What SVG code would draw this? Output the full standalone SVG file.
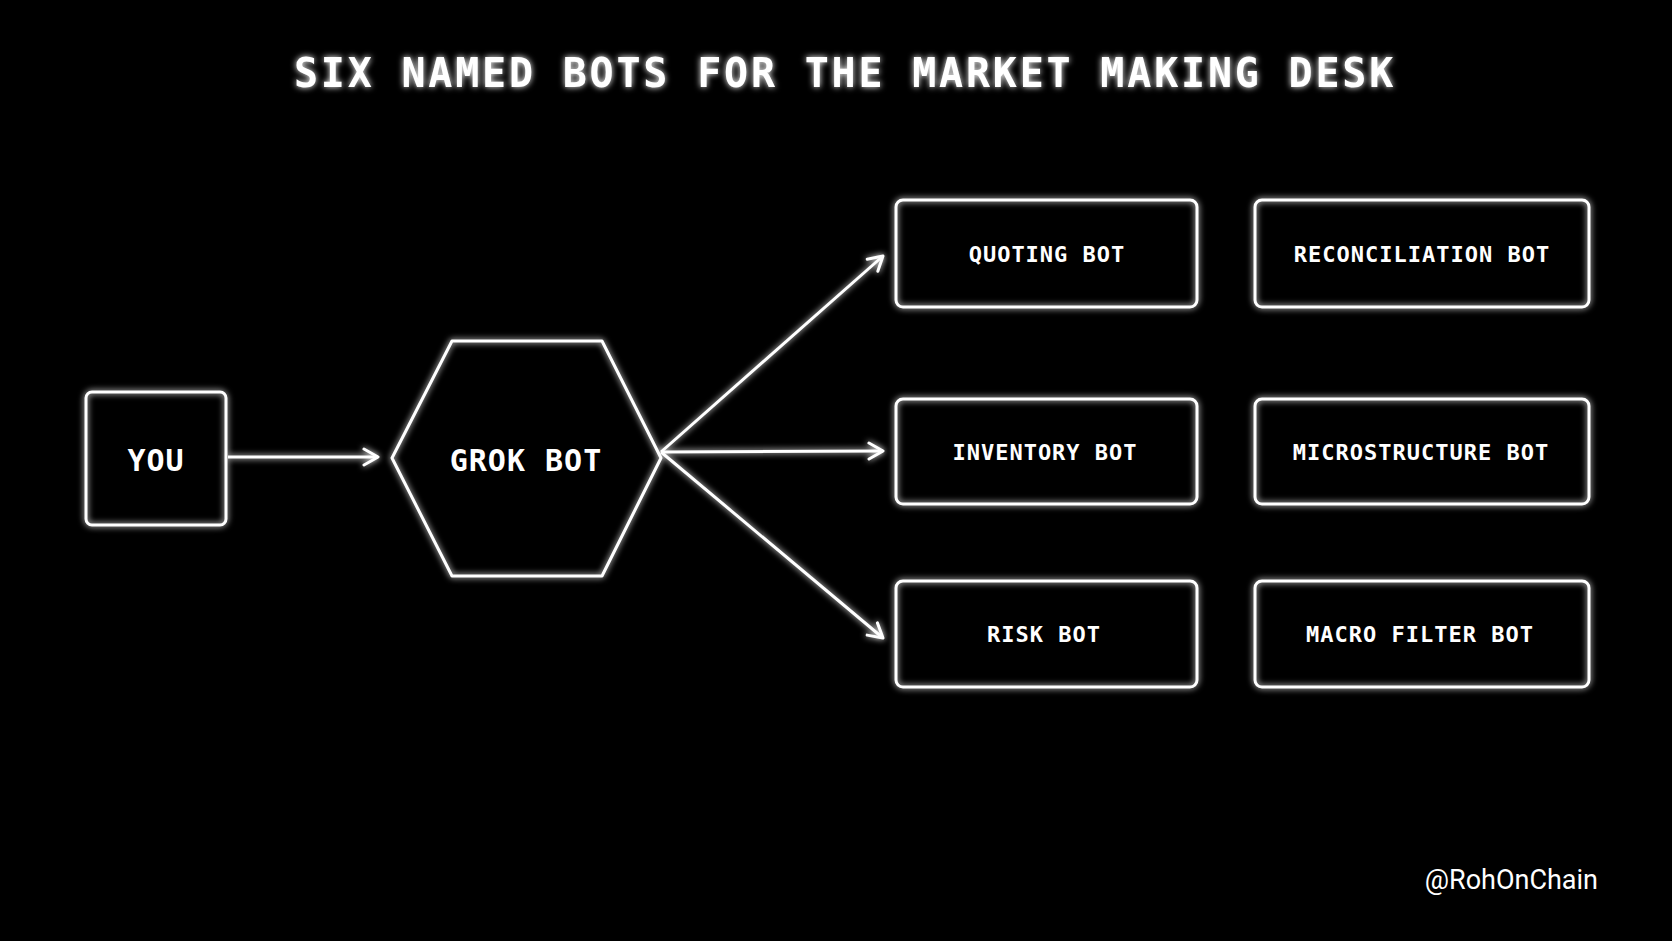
<svg xmlns="http://www.w3.org/2000/svg" width="1672" height="941" viewBox="0 0 1672 941">
<defs>
<filter id="glow" filterUnits="userSpaceOnUse" x="0" y="0" width="1672" height="941">
<feGaussianBlur in="SourceGraphic" stdDeviation="3" result="b"/>
<feMerge><feMergeNode in="b"/><feMergeNode in="SourceGraphic"/></feMerge>
</filter>
<marker id="arr" viewBox="0 0 20 20" refX="18" refY="10" markerWidth="20" markerHeight="20" markerUnits="userSpaceOnUse" orient="auto">
<path d="M4,2 L18,10 L4,18" fill="none" stroke="#fff" stroke-width="3" stroke-linecap="round" stroke-linejoin="round"/>
</marker>
<style>
.box{fill:none;stroke:#fff;stroke-width:3;filter:url(#glow)}
.t{fill:#fff;font-family:"DejaVu Sans Mono","Liberation Mono",monospace;font-weight:bold;text-anchor:middle;dominant-baseline:central}
.s{font-size:22px;letter-spacing:1px}
.b{font-size:30px;letter-spacing:1px}
.c{stroke:#fff;stroke-width:3;fill:none;marker-end:url(#arr);filter:url(#glow)}
</style>
</defs>
<rect width="1672" height="941" fill="#000"/>
<text x="845" y="73" class="t" style="font-size:40px;letter-spacing:2.8px" filter="url(#glow)">SIX NAMED BOTS FOR THE MARKET MAKING DESK</text>
<g id="connectors">
<line class="c" x1="228" y1="457" x2="378" y2="457"/>
<line class="c" x1="661" y1="452" x2="883" y2="256"/>
<line class="c" x1="661" y1="452" x2="883" y2="451"/>
<line class="c" x1="661" y1="452" x2="883" y2="638"/>
</g>
<g id="you"><rect class="box" x="86" y="392" width="140" height="133" rx="6"/><text class="t b" x="156" y="460">YOU</text></g>
<g id="grok"><polygon class="box" points="392,458 452,341 602,341 661,458 602,576 452,576" stroke-linejoin="round"/><text class="t b" x="526" y="460">GROK BOT</text></g>
<g id="quoting"><rect class="box" x="896" y="200" width="301" height="107" rx="7"/><text class="t s" x="1047" y="254">QUOTING BOT</text></g>
<g id="inventory"><rect class="box" x="896" y="399" width="301" height="105" rx="7"/><text class="t s" x="1045" y="452">INVENTORY BOT</text></g>
<g id="risk"><rect class="box" x="896" y="581" width="301" height="106" rx="7"/><text class="t s" x="1044" y="634">RISK BOT</text></g>
<g id="recon"><rect class="box" x="1255" y="200" width="334" height="107" rx="7"/><text class="t s" x="1422" y="254">RECONCILIATION BOT</text></g>
<g id="micro"><rect class="box" x="1255" y="399" width="334" height="105" rx="7"/><text class="t s" x="1421" y="452">MICROSTRUCTURE BOT</text></g>
<g id="macro"><rect class="box" x="1255" y="581" width="334" height="106" rx="7"/><text class="t s" x="1420" y="634">MACRO FILTER BOT</text></g>
<text x="1598" y="889" fill="#fff" font-family="Roboto,'Liberation Sans',sans-serif" font-size="27" text-anchor="end">@RohOnChain</text>
</svg>
